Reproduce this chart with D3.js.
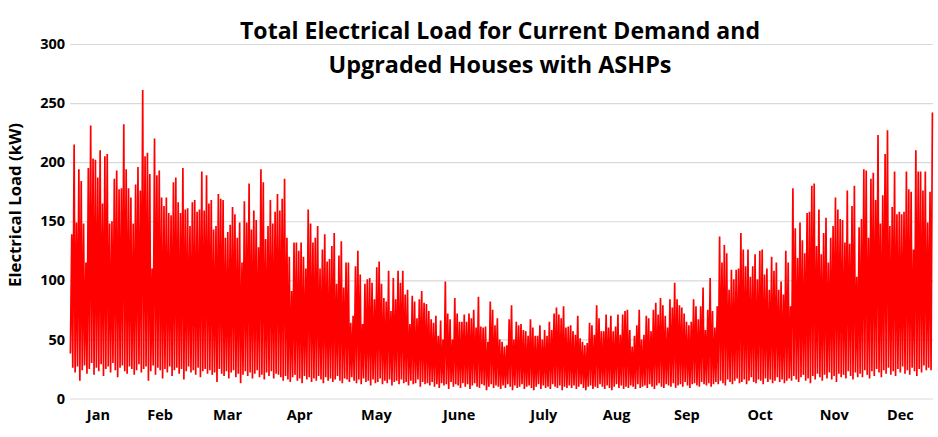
<!DOCTYPE html>
<html>
<head>
<meta charset="utf-8">
<script src="https://cdn.jsdelivr.net/npm/d3@7"></script>
<style>
  html, body { margin: 0; padding: 0; background: #ffffff; }
  svg { display: block; }
</style>
</head>
<body>
<svg id="chart" width="938" height="437"></svg>
<script>
// ---------------- DATA ----------------
const titleLines = ["Total Electrical Load for Current Demand and", "Upgraded Houses with ASHPs"];
const yAxisTitle = "Electrical Load (kW)";
const yTicks = [0, 50, 100, 150, 200, 250, 300];
const monthLabels = ["Jan", "Feb", "Mar", "Apr", "May", "June", "July", "Aug", "Sep", "Oct", "Nov", "Dec"];
// day-of-year where each month label sits in the reference
const monthLabelDay = [11.8, 37.9, 66.4, 96.9, 129.4, 164.4, 200.2, 231, 260.7, 291.7, 323, 351];

// daily peak load (kW), day 0 .. 364
const dailyPeak = [
  139,215,149,194,184,148,115,195,231,203, 202,187,210,165,205,207,148,150,186,193,
  177,178,232,194,178,170,148,181,196,176, 261,205,208,190,110,220,189,193,170,163,
  170,157,155,183,187,166,157,195,160,161, 146,166,168,158,160,192,159,189,165,168,
  143,146,173,169,168,136,141,147,162,156, 136,149,115,167,149,182,143,159,151,128,
  194,183,135,146,168,148,158,173,159,169, 186,136,120,91,132,132,125,132,120,110,
  160,148,132,136,146,110,126,139,116,118, 129,140,97,121,133,94,115,115,64,70,
  112,125,105,63,97,101,102,98,84,111, 116,97,85,82,108,74,102,84,108,98,
  108,88,92,63,87,82,68,84,91,81, 80,74,67,64,70,53,66,50,99,72,
  67,50,85,72,65,65,71,65,72,68, 75,60,86,61,60,61,48,82,75,62,
  68,50,48,44,45,67,79,50,65,62, 63,58,57,53,67,60,53,53,62,50,
  58,53,65,58,72,77,71,68,78,60, 61,62,57,54,70,51,48,45,47,64,
  62,54,79,68,57,57,71,60,70,57, 61,71,54,71,74,75,58,44,53,62,
  75,50,54,70,68,57,75,81,71,85, 79,70,60,84,77,98,84,79,77,72,
  65,62,65,84,78,67,78,94,58,75, 102,74,60,78,137,115,130,123,92,109,
  101,109,110,140,126,112,126,103,112,122, 101,125,126,105,110,92,120,108,115,92,
  99,88,125,115,78,178,144,119,149,134, 123,157,158,180,182,129,160,122,140,153,
  115,136,146,170,160,152,151,132,176,131, 163,180,103,145,152,194,193,136,186,191,
  168,223,148,172,207,227,146,162,192,156, 158,156,158,192,177,175,126,210,192,192,
  176,192,149,175,242
];

// daily night-time minimum load (kW), day 0 .. 364
const dailyTrough = [
  // Jan
  38,26,22,27,15,24,28,21,25,30,20,26,23,29,19,25,27,22,30,24,18,26,28,23,21,27,25,20,24,29,22,
  // Feb
  25,27,15,23,28,20,26,24,17,25,22,27,19,24,26,21,25,16,23,27,22,24,20,26,18,23,25,21,
  // Mar
  24,20,22,14,25,21,19,23,17,22,24,18,21,13,20,23,19,22,17,21,24,18,20,16,22,19,23,17,21,20,18,
  // Apr
  15,19,16,14,18,20,15,17,13,19,16,18,14,17,15,19,16,13,18,15,17,14,16,19,15,13,17,16,14,18,
  // May
  15,13,16,12,17,14,15,11,16,13,14,17,12,15,13,16,11,14,15,12,16,13,14,11,15,12,13,16,10,14,12,
  // June
  13,11,14,10,12,9,13,11,12,8,14,10,12,11,9,13,10,12,8,11,13,10,9,12,11,7,10,12,9,11,
  // July
  10,8,11,9,12,10,7,11,9,10,12,8,10,11,9,7,10,12,8,11,9,10,8,12,10,9,11,7,10,9,11,
  // Aug
  9,11,8,10,12,9,7,10,11,8,10,9,12,10,8,11,9,7,10,12,9,11,8,10,9,11,10,8,12,9,10,
  // Sep
  11,9,12,10,8,11,13,10,9,12,11,10,13,9,11,12,10,14,11,9,12,13,11,10,14,12,11,13,10,12,
  // Oct
  14,12,15,13,11,16,14,12,15,17,13,14,16,12,15,18,14,13,16,15,12,17,14,16,13,15,18,14,16,13,15,
  // Nov
  17,15,19,16,14,18,20,15,17,13,19,16,21,18,15,20,17,22,16,19,14,21,18,20,17,23,19,16,22,18,
  // Dec
  21,18,24,20,17,23,19,25,22,18,24,21,26,20,23,19,25,22,27,21,24,20,26,23,19,25,22,28,24,26,24
];

const troughHour = 4;   // hour of the day of the night minimum
const peakHour = 18;    // hour of the day of the evening peak

// ---------------- CHART ----------------
const svg = d3.select("#chart");
const W = 938, H = 437;
const margin = { left: 70, right: 5, top: 44, bottom: 38.5 };

const x = d3.scaleLinear().domain([0, 365]).range([margin.left, W - margin.right]);
const y = d3.scaleLinear().domain([0, 300]).range([H - margin.bottom, margin.top]);

// build the series: trough then peak for each day
const series = [];
dailyPeak.forEach((p, i) => {
  series.push({ t: i + troughHour / 24, v: dailyTrough[i] });
  series.push({ t: i + peakHour / 24, v: p });
});

// gridlines + y tick labels
const yAxis = d3.axisLeft(y).tickValues(yTicks).tickSize(-(x.range()[1] - x.range()[0])).tickPadding(5);
const gy = svg.append("g").attr("transform", `translate(${margin.left},0)`).call(yAxis);
gy.select(".domain").remove();
gy.selectAll(".tick line").attr("stroke", "#d9d9d9").attr("stroke-width", 1.2);
gy.selectAll(".tick text")
  .attr("font-family", "'Open Sans', sans-serif")
  .attr("font-weight", "bold")
  .attr("font-size", 14.5)
  .attr("fill", "#000");

// month labels
const xAxis = d3.axisBottom(x).tickValues(monthLabelDay).tickFormat((d, i) => monthLabels[i]).tickSize(0).tickPadding(11);
const gx = svg.append("g").attr("transform", `translate(0,${y(0)})`).call(xAxis);
gx.select(".domain").remove();
gx.selectAll(".tick text")
  .attr("font-family", "'Open Sans', sans-serif")
  .attr("font-weight", "bold")
  .attr("font-size", 14.5)
  .attr("fill", "#000");

// line
const line = d3.line().x(d => x(d.t)).y(d => y(d.v));
svg.append("path")
  .datum(series)
  .attr("d", line)
  .attr("fill", "none")
  .attr("stroke", "#ff0000")
  .attr("stroke-width", 1.7)
  .attr("stroke-linejoin", "bevel");

// title
const titleY = [39, 73];
const titleW = [520, 343];
titleLines.forEach((t, i) => {
  svg.append("text")
    .attr("x", 500).attr("y", titleY[i])
    .attr("text-anchor", "middle")
    .attr("font-family", "'Open Sans', sans-serif")
    .attr("font-weight", "bold")
    .attr("font-size", 23)
    .attr("textLength", titleW[i])
    .attr("lengthAdjust", "spacingAndGlyphs")
    .attr("fill", "#000")
    .text(t);
});

// y-axis title
svg.append("text")
  .attr("transform", `translate(21,${205}) rotate(-90)`)
  .attr("text-anchor", "middle")
  .attr("font-family", "'Open Sans', sans-serif")
  .attr("font-weight", "bold")
  .attr("font-size", 16)
  .attr("textLength", 164)
  .attr("lengthAdjust", "spacingAndGlyphs")
  .attr("fill", "#000")
  .text(yAxisTitle);
</script>
</body>
</html>
